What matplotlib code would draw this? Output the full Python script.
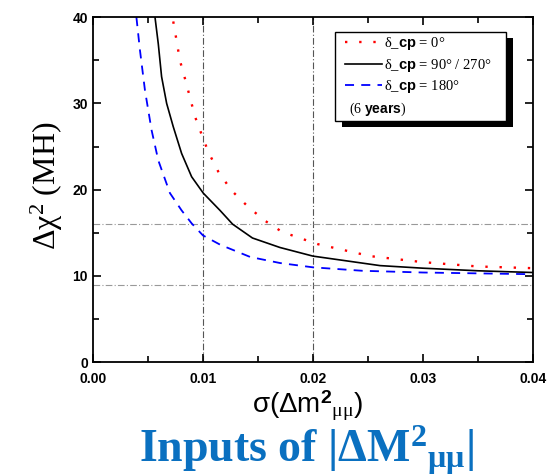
import matplotlib
matplotlib.use("Agg")
import matplotlib.pyplot as plt
from matplotlib.patches import Rectangle
from matplotlib.ticker import MultipleLocator

plt.rcParams["mathtext.fontset"] = "custom"
plt.rcParams["mathtext.rm"] = "Liberation Serif"
plt.rcParams["mathtext.it"] = "Liberation Serif:italic"
plt.rcParams["mathtext.bf"] = "Liberation Serif:bold"
plt.rcParams["mathtext.sf"] = "Liberation Sans:bold"

# sigma(dm2_mumu) vs delta chi^2 (MH)
x_red = [0.0073, 0.0076, 0.0079, 0.00836, 0.0088, 0.00927, 0.00988, 0.01048, 0.01139,
         0.0126, 0.01412, 0.01564, 0.0172, 0.0204, 0.0252, 0.03, 0.035, 0.04]
y_red = [39.5, 37.3, 35.0, 32.9, 30.8, 28.5, 26.4, 24.4, 22.1,
         19.9, 18.0, 16.4, 15.1, 13.7, 12.3, 11.6, 11.1, 10.9]

x_black = [0.00564, 0.00594, 0.00624, 0.0067, 0.0073, 0.00806, 0.00897, 0.01003, 0.01155,
           0.0127, 0.0145, 0.017, 0.02, 0.0261, 0.03, 0.035, 0.04]
y_black = [40.0, 36.9, 33.1, 30.0, 27.3, 24.2, 21.5, 19.6, 17.6,
           16.0, 14.4, 13.3, 12.3, 11.2, 10.9, 10.6, 10.4]

x_blue = [0.00395, 0.00427, 0.00473, 0.00533, 0.00594, 0.007, 0.00806, 0.00897, 0.01,
          0.0116, 0.0143, 0.017, 0.02, 0.0245, 0.03, 0.035, 0.04]
y_blue = [40.0, 36.2, 31.5, 26.9, 23.4, 19.6, 17.6, 16.1, 14.7,
          13.6, 12.2, 11.5, 11.0, 10.6, 10.4, 10.3, 10.2]

ref_x = [0.01, 0.02]
ref_y = [16, 9]

fig = plt.figure(figsize=(5.5, 4.76), dpi=100)
ax = fig.add_axes([0.169, 0.239, 0.8, 0.725])

for xv in ref_x:
    ax.axvline(xv, color="#555555", lw=0.8, ls="-.", dashes=(6, 2, 1, 2), zorder=1)
for yv in ref_y:
    ax.axhline(yv, color="#999999", lw=0.8, ls="-.", dashes=(6, 2, 1, 2), zorder=1)

ax.plot(x_red, y_red, color="red", ls=(0, (1, 5)), lw=1.7,
        label="δ_$\\mathsf{cp}$ = 0°")
ax.plot(x_black, y_black, color="black", lw=1.2,
        label="δ_$\\mathsf{cp}$ = 90° / 270°")
ax.plot(x_blue, y_blue, color="blue", ls=(0, (5, 4)), lw=1.3,
        label="δ_$\\mathsf{cp}$ = 180°")

ax.set_xlim(0, 0.04)
ax.set_ylim(0, 40)
ax.xaxis.set_major_locator(MultipleLocator(0.01))
ax.xaxis.set_minor_locator(MultipleLocator(0.005))
ax.yaxis.set_major_locator(MultipleLocator(10))
ax.yaxis.set_minor_locator(MultipleLocator(5))
ax.tick_params(which="both", direction="in", top=True, right=True, width=1.2)
ax.tick_params(which="major", length=6)
ax.tick_params(which="minor", length=4)
ax.tick_params(axis="x", pad=7)
ax.set_xticks([0, 0.01, 0.02, 0.03, 0.04], ["0.00", "0.01", "0.02", "0.03", "0.04"])
for lab in ax.get_xticklabels() + ax.get_yticklabels():
    lab.set_fontfamily("Liberation Sans")
    lab.set_fontweight("bold")
    lab.set_fontsize(10)
for sp in ax.spines.values():
    sp.set_linewidth(1.3)

# legend box with a hard shadow
ax.add_patch(Rectangle((0.566, 0.681), 0.389, 0.258, transform=ax.transAxes,
                       facecolor="black", edgecolor="none", zorder=4))
ax.add_patch(Rectangle((0.55, 0.699), 0.389, 0.258, transform=ax.transAxes,
                       facecolor="white", edgecolor="black", lw=1.0, zorder=5))
leg = ax.legend(loc="upper left", bbox_to_anchor=(0.573, 0.947), frameon=False,
                borderpad=0, borderaxespad=0,
                handlelength=2.5, handletextpad=0.2, labelspacing=0.3,
                prop={"family": "Liberation Serif", "size": 10.5})
leg.set_zorder(6)
ax.text(0.582, 0.733, "(6 $\\mathsf{years}$)", transform=ax.transAxes,
        family="Liberation Serif", fontsize=10, va="center", zorder=7)

fig.text(0.086, 0.609, "Δχ$^{2}$ (MH)", rotation=90, ha="center", va="center",
         family="Liberation Serif", fontsize=23)
fig.text(0.559, 0.147, "σ(Δm$^{\\mathsf{2}}$$_{\\mathrm{μμ}}$)", ha="center", va="center",
         family="Liberation Sans", fontsize=20)
fig.text(0.557, 0.054, "Inputs of |ΔM$^{\\mathbf{2}}$$_{\\mathbf{μμ}}$|", ha="center",
         va="center", family="Liberation Serif", fontweight="bold", fontsize=33,
         color="#0a70c0")

fig.savefig("out.png", dpi=100)
